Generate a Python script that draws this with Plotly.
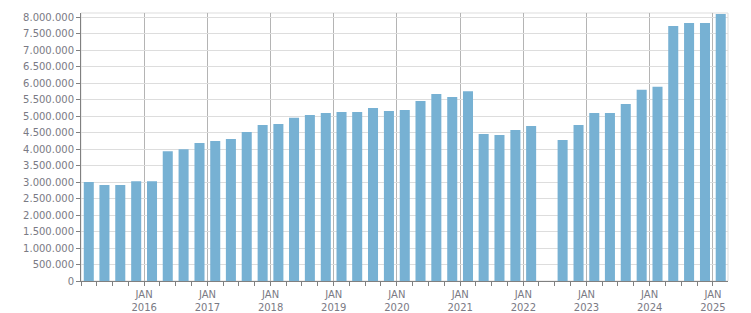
import plotly.graph_objects as go
import pandas as pd

quarters = ["2015Q1","2015Q2","2015Q3","2015Q4",
            "2016Q1","2016Q2","2016Q3","2016Q4",
            "2017Q1","2017Q2","2017Q3","2017Q4",
            "2018Q1","2018Q2","2018Q3","2018Q4",
            "2019Q1","2019Q2","2019Q3","2019Q4",
            "2020Q1","2020Q2","2020Q3","2020Q4",
            "2021Q1","2021Q2","2021Q3","2021Q4",
            "2022Q1","2022Q2","2022Q3","2022Q4",
            "2023Q1","2023Q2","2023Q3","2023Q4",
            "2024Q1","2024Q2","2024Q3","2024Q4",
            "2025Q1"]
values = [3000000, 2910000, 2910000, 3030000,
          3030000, 3940000, 4000000, 4190000,
          4250000, 4310000, 4520000, 4730000,
          4760000, 4950000, 5040000, 5100000,
          5130000, 5130000, 5250000, 5160000,
          5190000, 5460000, 5670000, 5580000,
          5760000, 4460000, 4430000, 4580000,
          4700000, None, 4280000, 4730000,
          5100000, 5100000, 5370000, 5800000,
          5890000, 7740000, 7830000, 7830000,
          8100000]
tick_years = list(range(2016, 2026))
tick_labels = [f"JAN<br>{y}" for y in tick_years]

periods = [pd.Period(q, freq="Q") for q in quarters]
x_mid = [p.start_time + (p.end_time - p.start_time) / 2 for p in periods]

font_color = "#7a7a84"
axis_color = "#808080"

fig = go.Figure()
fig.add_trace(go.Bar(
    x=x_mid, y=values,
    width=58 * 86400000,
    marker=dict(color="#77b1d3", line=dict(width=0)),
    hoverinfo="x+y",
))

fig.update_layout(
    width=751, height=313,
    margin=dict(l=81, r=23, t=13, b=32, autoexpand=False),
    paper_bgcolor="white", plot_bgcolor="white",
    separators=",.",
    showlegend=False,
    font=dict(family="DejaVu Sans", size=10, color=font_color),
    shapes=[dict(type="rect", xref="paper", yref="paper", x0=0, x1=1, y0=0, y1=1,
                 line=dict(color="#dddddd", width=1), layer="below")],
)

fig.update_xaxes(
    type="date",
    range=["2015-01-01", "2025-03-29"],
    tickmode="array",
    tickvals=[f"{y}-01-01" for y in tick_years],
    ticktext=tick_labels,
    ticks="outside", ticklen=4, tickcolor=axis_color,
    showgrid=True, gridcolor="#b4b4b4", gridwidth=1,
    showline=True, linecolor=axis_color, linewidth=1,
    minor=dict(dtick="M3", tick0="2015-01-01", ticks="outside", ticklen=4,
               tickcolor=axis_color, showgrid=False),
    zeroline=False,
    automargin=False,
    tickfont=dict(family="DejaVu Sans", size=10, color=font_color),
)
fig.update_yaxes(
    range=[0, 8131000],
    tickmode="linear", tick0=0, dtick=500000,
    tickformat=",d",
    ticks="outside", ticklen=4, tickcolor=axis_color,
    showgrid=True, gridcolor="#dddddd", gridwidth=1,
    showline=True, linecolor=axis_color, linewidth=1,
    zeroline=False,
    automargin=False,
    tickfont=dict(family="DejaVu Sans", size=10, color=font_color),
)

fig.write_html("out.html")
